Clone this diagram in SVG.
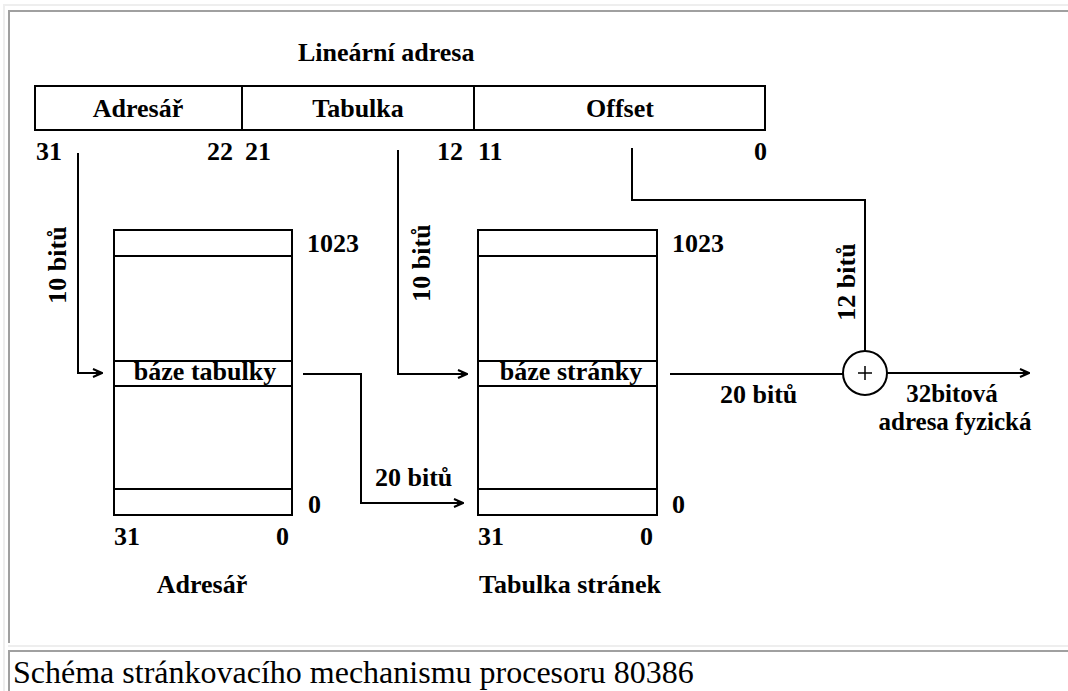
<svg xmlns="http://www.w3.org/2000/svg" width="1068" height="691" viewBox="0 0 1068 691">
<style>
.t{font-family:"Liberation Serif","Times New Roman",serif;font-weight:bold;font-size:26px;fill:#000}
.s{font-size:25px}
.m{text-anchor:middle}
.e{text-anchor:end}
.box{fill:#fff;stroke:#000;stroke-width:2}
.ln{fill:none;stroke:#000;stroke-width:2}
.cap{font-family:"Liberation Serif","Times New Roman",serif;font-size:32px;fill:#000}
</style>
<defs>
<marker id="arr" viewBox="0 0 12 10" markerWidth="12" markerHeight="10" refX="11" refY="5" orient="auto" markerUnits="userSpaceOnUse">
<path d="M2,1 L11,5 L2,9" fill="none" stroke="#000" stroke-width="2"/>
<polygon points="5,3 11,5 5,7" fill="#000"/>
</marker>
</defs>
<rect width="1068" height="691" fill="#fff"/>
<g id="frame">
<path d="M4,691 V5 H1068" fill="none" stroke="#eeeeee" stroke-width="2"/>
<path d="M9,643 V11 H1068" fill="none" stroke="#a0a0a0" stroke-width="2"/>
<path d="M8,646 H1068" fill="none" stroke="#eeeeee" stroke-width="2"/>
<path d="M9,691 V651 H1068" fill="none" stroke="#a0a0a0" stroke-width="2"/>
</g>
<g id="linear-address">
<text class="t" x="298" y="61">Lineární adresa</text>
<rect class="box" x="35" y="86" width="730" height="44"/>
<path class="ln" d="M242,86 V130 M474,86 V130"/>
<text class="t m" x="138" y="117">Adresář</text>
<text class="t m" x="358" y="117">Tabulka</text>
<text class="t m" x="620" y="117">Offset</text>
<text class="t" x="36" y="160">31</text>
<text class="t e" x="233" y="160">22</text>
<text class="t" x="245" y="160">21</text>
<text class="t e" x="463" y="160">12</text>
<text class="t" x="478" y="160">11</text>
<text class="t e" x="767" y="160">0</text>
</g>
<g id="directory">
<rect class="box" x="114" y="230" width="178" height="285"/>
<path class="ln" d="M114,256 H292 M114,361 H292 M114,386 H292 M114,489 H292"/>
<text class="t m" x="205" y="380">báze tabulky</text>
<text class="t" x="307" y="252">1023</text>
<text class="t" x="308" y="513">0</text>
<text class="t" x="114" y="545">31</text>
<text class="t e" x="289" y="545">0</text>
<text class="t m" x="202" y="593">Adresář</text>
</g>
<g id="page-table">
<rect class="box" x="478" y="230" width="179" height="285"/>
<path class="ln" d="M478,256 H657 M478,361 H657 M478,386 H657 M478,489 H657"/>
<text class="t m" x="571" y="380">báze stránky</text>
<text class="t" x="672" y="252">1023</text>
<text class="t" x="672" y="513">0</text>
<text class="t" x="478" y="545">31</text>
<text class="t e" x="653" y="545">0</text>
<text class="t m" x="570" y="593">Tabulka stránek</text>
</g>
<g id="adder">
<circle cx="865" cy="373" r="22" fill="#fff" stroke="#000" stroke-width="2"/>
<path d="M858,373 H872 M865,366 V380" stroke="#000" stroke-width="1.5"/>
</g>
<g id="connectors">
<path class="ln" d="M78,153 V373 H102" marker-end="url(#arr)"/>
<path class="ln" d="M398,150 V374 H467" marker-end="url(#arr)"/>
<path class="ln" d="M632,148 V200 H865 V351"/>
<path class="ln" d="M303,374 H361 V503 H463" marker-end="url(#arr)"/>
<path class="ln" d="M670,374 H843"/>
<path class="ln" d="M887,373 H1029" marker-end="url(#arr)"/>
</g>
<g id="labels">
<text class="t m" transform="translate(66,265) rotate(-90)">10 bitů</text>
<text class="t m" transform="translate(430,263) rotate(-90)">10 bitů</text>
<text class="t m" transform="translate(855,282) rotate(-90)">12 bitů</text>
<text class="t" x="375" y="486">20 bitů</text>
<text class="t" x="720" y="403">20 bitů</text>
<text class="t s m" x="952" y="402">32bitová</text>
<text class="t s m" x="955" y="430">adresa fyzická</text>
</g>
<g id="caption">
<text class="cap" x="13" y="683">Schéma stránkovacího mechanismu procesoru 80386</text>
</g>
</svg>
